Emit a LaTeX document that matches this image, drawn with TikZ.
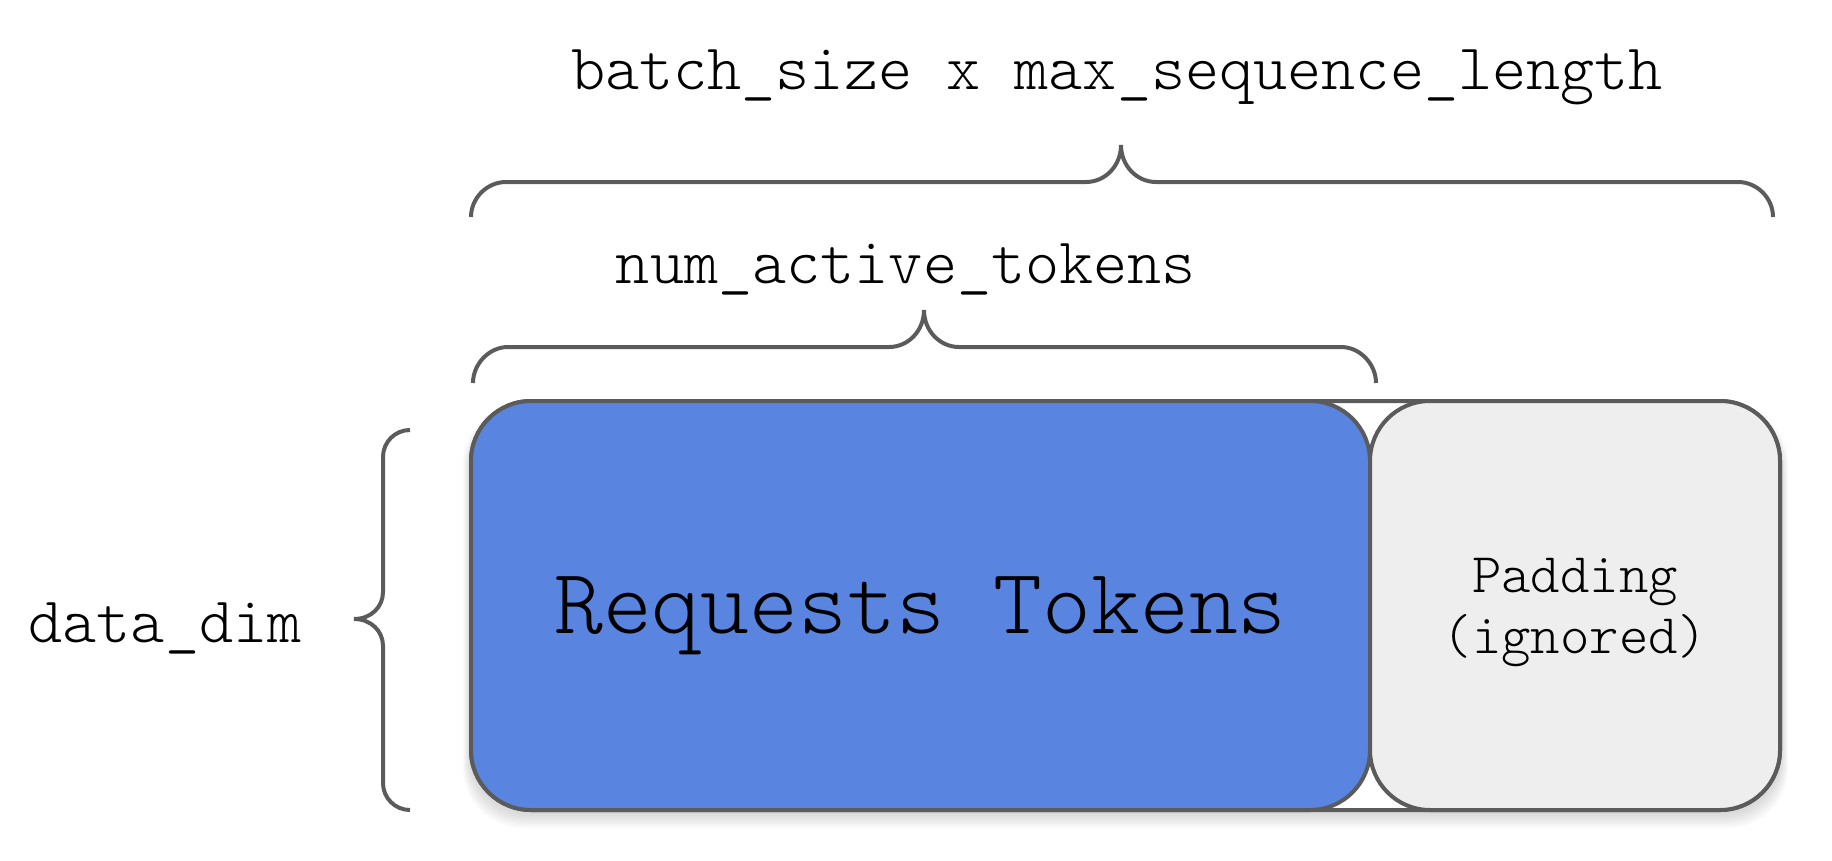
\documentclass[tikz,border=0pt]{standalone}
\usepackage{fontspec}
\setmonofont{Latin Modern Mono Light}
\usetikzlibrary{positioning}
\definecolor{edgegray}{HTML}{5B5B5B}
\definecolor{tokenblue}{HTML}{5985E1}
\definecolor{padgray}{HTML}{EEEEEE}

\begin{document}
\begin{tikzpicture}[x=1pt, y=-1pt]
    \tikzset{box/.style={draw=edgegray, line width=4pt, rounded corners=60pt, inner sep=0pt, align=center},
        labeltext/.style={font=\ttfamily\fontsize{65}{78}\selectfont, inner sep=0pt},
        brace/.style={draw=edgegray, line width=4pt}
    }
    \useasboundingbox (0,0) rectangle (1832,860);

    % soft shadow under the boxes
    \foreach \s in {1,...,8} {
        \fill[black, opacity=0.018, rounded corners=60pt] (471-\s, 412-\s) rectangle (1780+\s, 812+2*\s);
    }

    \node (base) [box, fill=white, minimum width=1309pt, minimum height=409pt] at (1125.5,605.5) {};
    \node (tokens) [box, fill=tokenblue, minimum width=899pt, minimum height=409pt, anchor=west,
        font=\ttfamily\fontsize{93}{110}\selectfont, text depth=0pt] at (base.west) {Requests Tokens};
    \node (padding) [box, fill=padgray, minimum width=410pt, minimum height=409pt, anchor=east,
        font=\ttfamily\fontsize{56}{61}\selectfont, text height=110pt] at (base.east) {Padding\\(ignored)};

    \node (title) [labeltext, anchor=base] at (1117,89) {batch\_size x max\_sequence\_length};
    \node (active) [labeltext, anchor=base] at (906,283) {num\_active\_tokens};
    \node (dim) [labeltext, anchor=base] at (165,642) {data\_dim};

    % braces
    \draw [brace] (471,217) .. controls (471,198) and (487,182) .. (506,182) -- (1086,182)
        .. controls (1105,182) and (1121,166) .. (1121,145)
        .. controls (1121,166) and (1137,182) .. (1156,182) -- (1738,182)
        .. controls (1757,182) and (1773,198) .. (1773,217);
    \draw [brace] (473,383) .. controls (473,364) and (489,347) .. (508,347) -- (889,347)
        .. controls (908,347) and (924,331) .. (924,310)
        .. controls (924,331) and (940,347) .. (959,347) -- (1341,347)
        .. controls (1360,347) and (1376,364) .. (1376,383);
    \draw [brace] (410,430) .. controls (395,430) and (383,442) .. (383,457) -- (383,592)
        .. controls (383,607) and (371,619) .. (354,619)
        .. controls (371,619) and (383,631) .. (383,646) -- (383,783)
        .. controls (383,798) and (395,810) .. (410,810);
\end{tikzpicture}
\end{document}
